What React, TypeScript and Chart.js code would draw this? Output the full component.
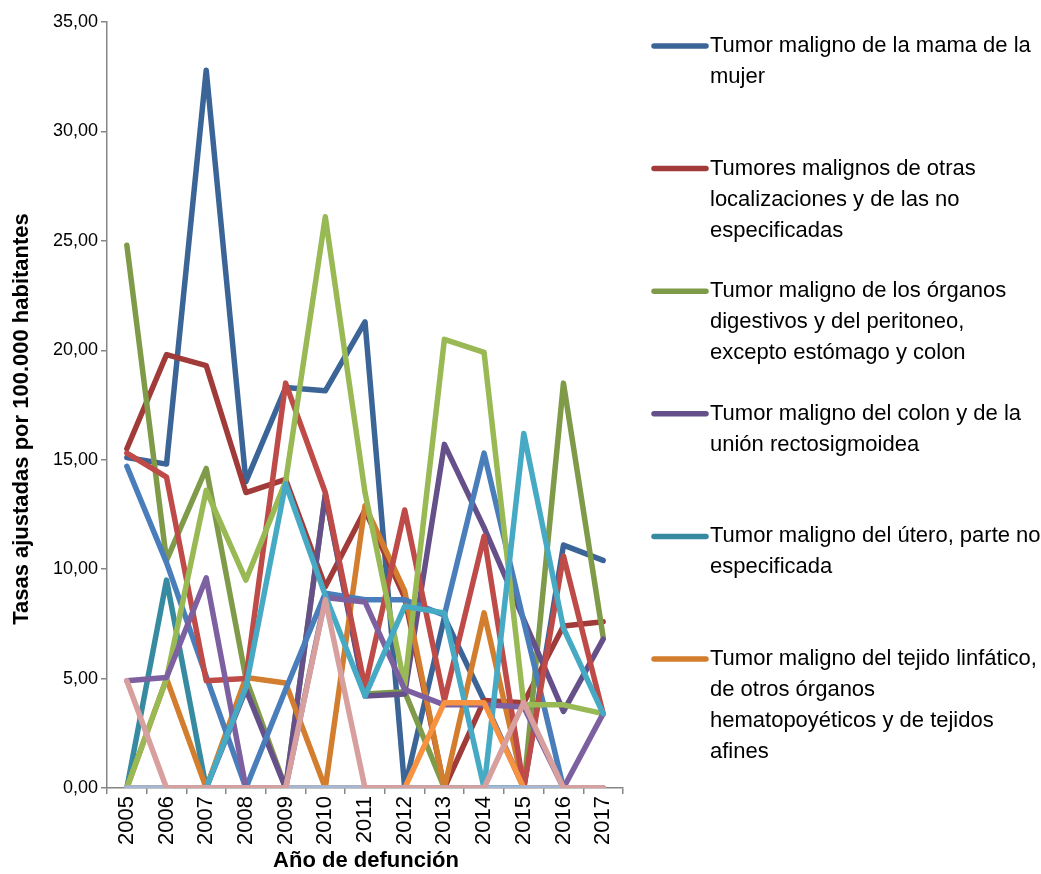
import React, { useEffect, useRef } from 'react';
import { Chart, registerables } from 'chart.js';

Chart.register(...registerables);

const years = ['2005', '2006', '2007', '2008', '2009', '2010', '2011', '2012', '2013', '2014', '2015', '2016', '2017'];

const mama = [15.1, 14.8, 32.8, 14.0, 18.3, 18.15, 21.3, 0, 7.8, 4.0, 0, 11.1, 10.4];
const otras = [15.5, 19.8, 19.3, 13.5, 14.1, 9.2, 12.7, 8.7, 0, 4.0, 3.9, 7.4, 7.6];
const digestivos = [24.8, 10.4, 14.6, 5.0, 0, 13.4, 4.3, 4.4, 0, 0, 0, 18.5, 6.9];
const colon = [0, 0, 0, 4.5, 0, 13.4, 4.2, 4.3, 15.7, 11.9, 7.7, 3.5, 6.8];
const utero = [0, 9.5, 0, 0, 0, 0, 0, 0, 0, 0, 0, 0, 0];
const linfatico = [0, 5.0, 0, 5.05, 4.8, 0, 12.9, 9.0, 0, 8.0, 0, 0, 0];
const serie7 = [14.7, 10.3, 5.1, 0, 4.5, 8.9, 8.6, 8.6, 7.9, 15.3, 7.6, 0, 0];
const serie8 = [15.3, 14.2, 4.9, 5.0, 18.5, 13.5, 4.6, 12.7, 4.0, 11.5, 0, 10.6, 3.4];
const serie9 = [0, 5.0, 13.6, 9.5, 14.0, 26.1, 13.5, 4.7, 20.5, 19.9, 3.8, 3.8, 3.4];
const serie10 = [4.9, 5.05, 9.6, 0, 0, 8.7, 8.5, 4.5, 3.8, 3.8, 3.7, 0, 3.4];
const serie11 = [0, 0, 0, 4.6, 13.9, 8.8, 4.2, 8.3, 8.0, 0, 16.2, 7.3, 3.4];
const serie12 = [0, 0, 0, 0, 0, 0, 0, 0, 3.9, 3.9, 0, 0, 0];
const serie13 = [0, 0, 0, 0, 0, 0, 0, 0, 0, 0, 0, 0, 0];
const serie14 = [4.9, 0, 0, 0, 0, 8.6, 0, 0, 0, 0, 3.9, 0, 0];

const seriesNames = [
  'Tumor maligno de la mama de la mujer',
  'Tumores malignos de otras localizaciones y de las no especificadas',
  'Tumor maligno de los órganos digestivos y del peritoneo, excepto estómago y colon',
  'Tumor maligno del colon y de la unión rectosigmoidea',
  'Tumor maligno del útero, parte no especificada',
  'Tumor maligno del tejido linfático, de otros órganos hematopoyéticos y de tejidos afines',
  'Serie 7', 'Serie 8', 'Serie 9', 'Serie 10', 'Serie 11', 'Serie 12', 'Serie 13', 'Serie 14',
];

const legendLines = [
  ['Tumor maligno de la mama de la', 'mujer'],
  ['Tumores malignos de otras', 'localizaciones y de las no', 'especificadas'],
  ['Tumor maligno de los órganos', 'digestivos y del peritoneo,', 'excepto estómago y colon'],
  ['Tumor maligno del colon y de la', 'unión rectosigmoidea'],
  ['Tumor maligno del útero, parte no', 'especificada'],
  ['Tumor maligno del tejido linfático,', 'de otros órganos', 'hematopoyéticos y de tejidos', 'afines'],
];

const colors = [
  '#3B6597', '#A03B39', '#7F9A48', '#65508A', '#368BA1', '#D27E2E',
  '#4A7EBB', '#BE4B48', '#98B954', '#7D60A0', '#46AAC5', '#F69240',
  '#A4B7D7', '#D7A09E',
];

const yTitle = 'Tasas ajustadas por 100.000 habitantes';
const xTitle = 'Año de defunción';

const FONT = "'Liberation Sans', Arial, sans-serif";

export default function App() {
  const ref = useRef<HTMLCanvasElement>(null);

  useEffect(() => {
    const canvas = ref.current;
    if (!canvas) return;
    const allSeries = [mama, otras, digestivos, colon, utero, linfatico, serie7, serie8, serie9, serie10, serie11, serie12, serie13, serie14];
    const n = allSeries.length;

    const overlay = {
      id: 'overlay',
      afterDraw(chart: any) {
        const c = chart.ctx as CanvasRenderingContext2D;
        c.save();
        c.fillStyle = '#000';
        c.font = `bold 22px ${FONT}`;
        c.textAlign = 'center';
        c.textBaseline = 'middle';
        c.translate(22, 419);
        c.rotate(-Math.PI / 2);
        c.fillText(yTitle, 0, 0);
        c.restore();

        c.save();
        c.fillStyle = '#000';
        c.font = `bold 22px ${FONT}`;
        c.textAlign = 'center';
        c.textBaseline = 'middle';
        c.fillText(xTitle, 366, 861);
        c.restore();

        c.save();
        c.font = `22px ${FONT}`;
        c.textAlign = 'left';
        c.textBaseline = 'middle';
        for (let i = 0; i < legendLines.length; i++) {
          const y0 = 46 + i * 122.6;
          c.strokeStyle = colors[i];
          c.lineWidth = 5.5;
          c.lineCap = 'round';
          c.beginPath();
          c.moveTo(654, y0);
          c.lineTo(706, y0);
          c.stroke();
          c.fillStyle = '#000';
          legendLines[i].forEach((t, j) => c.fillText(t, 710, y0 + j * 31));
        }
        c.restore();
      },
    };

    const chart = new Chart(canvas, {
      type: 'line',
      data: {
        labels: years,
        datasets: allSeries.map((d, i) => ({
          label: seriesNames[i],
          data: d,
          borderColor: colors[i],
          backgroundColor: colors[i],
          borderWidth: 5.5,
          pointRadius: 0,
          tension: 0,
          fill: false,
          borderCapStyle: 'round' as const,
          borderJoinStyle: 'round' as const,
          order: n - 1 - i,
        })),
      },
      options: {
        responsive: false,
        animation: false,
        layout: { padding: { left: 0, top: 22, right: 418, bottom: 0 } },
        plugins: { legend: { display: false }, tooltip: { enabled: false }, title: { display: false } },
        scales: {
          x: {
            offset: true,
            grid: { offset: true, drawOnChartArea: false, drawTicks: true, tickLength: 6, color: '#868686', lineWidth: 1.5 },
            border: { display: true, color: '#868686', width: 1.5 },
            ticks: { minRotation: 90, maxRotation: 90, autoSkip: false, padding: 2, color: '#000', font: { family: FONT, size: 22 } },
            afterFit(scale: any) { scale.height = 86; },
          },
          y: {
            min: 0,
            max: 35,
            grid: { drawOnChartArea: false, drawTicks: true, tickLength: 6, color: '#868686', lineWidth: 1.5 },
            border: { display: true, color: '#868686', width: 1.5 },
            ticks: {
              stepSize: 5,
              padding: 3,
              color: '#000',
              font: { family: FONT, size: 18 },
              callback: (v: any) => Number(v).toFixed(2).replace('.', ','),
            },
            afterFit(scale: any) { scale.width = 107; },
          },
        },
      },
      plugins: [overlay],
    });
    return () => chart.destroy();
  }, []);

  return (
    <div style={{ position: 'absolute', left: 0, top: 0, width: 1041, height: 874, background: '#fff' }}>
      <canvas ref={ref} width={1041} height={874} style={{ display: 'block' }} />
    </div>
  );
}
